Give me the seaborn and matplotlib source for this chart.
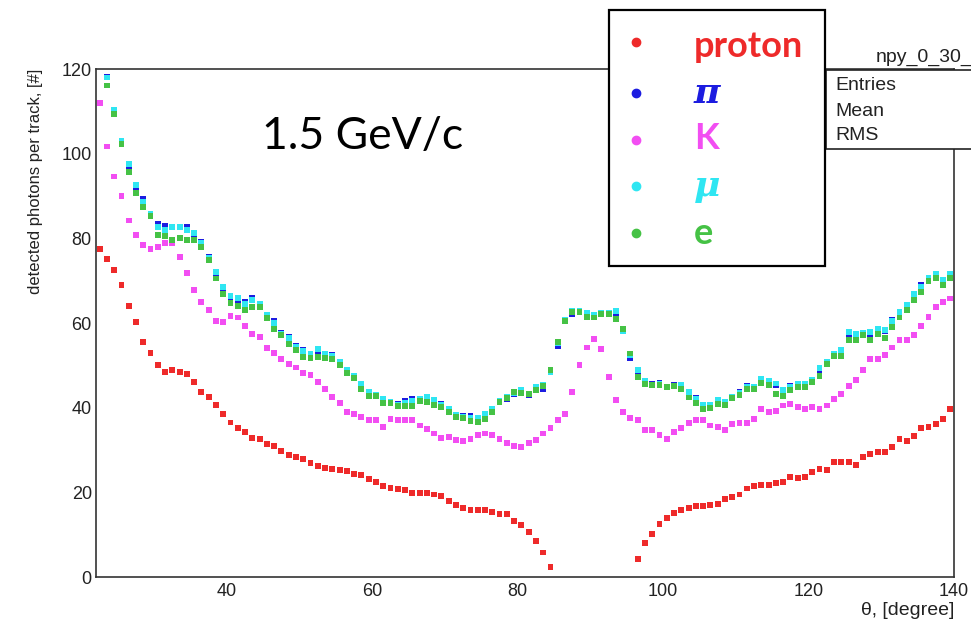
import numpy as np
import pandas as pd
import matplotlib
matplotlib.use('Agg')
import matplotlib.pyplot as plt
import seaborn as sns
from matplotlib.patches import Rectangle
from matplotlib.lines import Line2D
from matplotlib.ticker import MultipleLocator

# --- data: 1 degree bins from 22 to 140 ---
theta = np.arange(22.5, 140.0, 1.0)

proton = [77.5, 75.2, 72.5, 69.0, 64.1, 60.3, 55.6, 53.0, 50.1, 48.5,
          48.9, 48.4, 47.9, 46.0, 43.8, 42.5, 40.6, 38.4, 36.5, 35.2,
          34.2, 32.9, 32.6, 31.4, 31.0, 29.8, 28.8, 28.4, 27.8, 26.9,
          26.3, 25.8, 25.5, 25.3, 25.0, 24.3, 24.0, 23.1, 22.5, 21.4,
          21.1, 20.8, 20.5, 19.9, 19.9, 19.9, 19.5, 19.1, 18.0, 17.0,
          16.4, 15.8, 15.8, 15.8, 15.4, 14.8, 14.8, 13.2, 12.2, 10.7,
          8.5, 5.8, 2.4,
          np.nan, np.nan, np.nan, np.nan, np.nan, np.nan, np.nan, np.nan,
          np.nan, np.nan, np.nan,
          4.3, 8.0, 10.2, 12.5, 13.9, 15.1, 15.8, 16.4, 16.7, 16.7,
          17.0, 17.3, 18.4, 18.9, 19.5, 20.9, 21.4, 21.8, 21.8, 22.1,
          22.5, 23.7, 23.3, 23.6, 24.7, 25.6, 25.2, 27.2, 27.2, 27.2,
          26.5, 28.4, 29.1, 29.5, 29.5, 30.7, 32.6, 32.2, 33.3, 35.1,
          35.5, 36.1, 37.4, 39.6]

kaon = [111.9, 101.7, 94.6, 89.9, 84.2, 80.7, 78.5, 77.5, 77.9, 79.0,
        78.8, 75.6, 71.8, 67.9, 64.9, 63.1, 60.5, 60.3, 61.6, 61.3,
        59.3, 57.4, 56.7, 54.0, 52.9, 51.4, 50.4, 49.5, 48.2, 47.8,
        46.0, 44.4, 42.6, 41.2, 39.0, 38.4, 37.7, 37.1, 37.1, 35.5,
        37.4, 37.1, 37.1, 37.1, 35.8, 34.9, 33.9, 32.8, 33.1, 32.4,
        32.2, 32.6, 33.6, 33.9, 33.6, 32.6, 31.7, 31.0, 30.7, 31.7,
        32.3, 33.9, 35.3, 37.0, 38.6, 43.7, 50.1, 54.2, 56.2, 53.9,
        47.2, 41.8, 38.9, 37.5, 37.0, 34.8, 34.8, 33.6, 32.6, 34.2,
        35.2, 36.4, 37.0, 37.0, 35.8, 35.5, 34.8, 36.1, 36.4, 36.4,
        37.4, 39.6, 38.9, 39.2, 40.5, 40.8, 40.2, 39.6, 40.2, 39.6,
        40.5, 42.1, 43.3, 45.2, 46.5, 48.9, 51.5, 51.5, 52.4, 54.2,
        56.0, 56.0, 57.1, 59.3, 61.5, 63.8, 65.0, 65.8]

pion = [np.nan, 118.2, 110.0, 102.9, 96.8, 91.8, 89.4, 85.7, 83.3, 82.9,
        82.7, 82.7, 82.7, 81.0, 79.2, 75.6, 71.5, 67.8, 65.0, 65.5,
        64.9, 66.0, 64.3, 61.8, 60.5, 57.6, 56.6, 54.6, 53.7, 52.4,
        53.4, 52.6, 52.4, 50.6, 48.8, 47.3, 45.3, 43.5, 43.0, 42.0,
        41.4, 40.8, 41.6, 42.0, 42.0, 42.4, 41.3, 40.8, 39.6, 38.1,
        38.1, 38.0, 37.5, 38.0, 39.6, 41.5, 42.0, 43.3, 44.0, 43.0,
        44.3, 44.5, 48.3, 54.5, 60.5, 62.2, 62.5, 62.0, 61.8, 62.0,
        62.0, 62.2, 58.0, 51.8, 48.6, 46.0, 45.5, 45.8, 45.0, 45.3,
        45.3, 43.2, 42.2, 40.3, 40.4, 41.6, 41.3, 42.6, 43.6, 45.2,
        44.7, 46.4, 46.0, 45.3, 44.0, 45.2, 45.7, 45.7, 46.3, 48.6,
        50.5, 52.8, 53.3, 57.0, 57.5, 57.5, 57.5, 58.5, 58.0, 60.7,
        62.4, 64.0, 66.5, 69.0, 70.3, 71.5, 69.8, 71.3]

muon = [np.nan, 118.0, 110.3, 102.9, 97.6, 92.6, 88.5, 85.7, 82.6, 81.9,
        82.7, 82.7, 82.0, 81.2, 78.8, 75.4, 72.1, 68.4, 66.3, 65.9,
        64.4, 65.5, 64.5, 61.9, 60.1, 57.4, 56.4, 54.3, 53.4, 52.7,
        53.8, 52.8, 52.2, 50.8, 49.0, 47.5, 45.7, 43.7, 43.0, 42.0,
        41.3, 40.7, 41.1, 41.7, 42.0, 42.6, 41.8, 40.6, 39.6, 38.2,
        37.8, 37.6, 37.5, 38.6, 39.6, 41.6, 42.5, 43.5, 44.2, 43.3,
        44.8, 45.4, 48.5, 55.3, 60.8, 62.8, 62.8, 62.3, 61.8, 62.4,
        62.4, 62.8, 58.2, 52.4, 48.9, 46.2, 45.4, 45.6, 45.0, 45.2,
        45.4, 43.6, 42.0, 40.6, 40.6, 41.8, 41.4, 42.5, 43.4, 44.9,
        44.9, 46.7, 46.2, 45.7, 44.1, 45.0, 45.5, 45.5, 46.5, 49.3,
        50.9, 52.6, 53.6, 57.8, 57.5, 57.6, 57.8, 58.7, 58.3, 60.4,
        62.7, 64.3, 66.8, 68.6, 70.6, 71.7, 70.1, 71.7]

electron = [np.nan, 116.1, 109.4, 102.2, 95.7, 90.8, 87.3, 85.2, 80.7, 80.5,
            79.7, 80.0, 79.7, 79.7, 77.9, 74.9, 70.5, 66.9, 64.8, 64.1,
            63.1, 63.8, 63.8, 61.2, 58.6, 57.2, 55.0, 53.6, 51.9, 51.7,
            52.0, 51.8, 51.5, 50.1, 48.2, 47.0, 44.4, 42.8, 42.7, 41.1,
            41.0, 40.3, 40.3, 40.3, 41.6, 41.3, 40.7, 40.1, 39.0, 37.9,
            37.5, 36.9, 36.7, 37.4, 38.9, 41.4, 42.3, 43.6, 43.5, 43.2,
            44.2, 45.2, 48.9, 55.5, 60.5, 62.5, 62.5, 61.5, 61.3, 62.2,
            62.2, 61.0, 58.5, 52.8, 47.3, 45.6, 45.3, 45.3, 44.9, 45.2,
            44.4, 42.4, 41.1, 39.6, 40.0, 40.8, 40.7, 42.2, 43.0, 44.4,
            44.4, 45.9, 45.3, 43.3, 42.8, 44.1, 44.9, 44.9, 46.0, 47.5,
            50.3, 52.2, 52.2, 56.0, 56.0, 57.2, 56.0, 57.4, 56.4, 59.1,
            61.3, 63.0, 65.4, 67.4, 70.0, 70.6, 69.0, 70.6]

# drawing order (later ones on top)
order = ['proton', 'pi', 'K', 'mu', 'e']
series = {'proton': proton, 'pi': pion, 'K': kaon, 'mu': muon, 'e': electron}
colors = {'proton': '#ee2a2a', 'pi': '#1c1ce0', 'K': '#f24ef2',
          'mu': '#2fe6f2', 'e': '#45c245'}

df = pd.concat([pd.DataFrame({'theta': theta, 'photons': series[k], 'particle': k})
                for k in order], ignore_index=True).dropna()

# --- plot ---
sns.set_style('white')
plt.rcParams['font.family'] = ['Liberation Sans', 'DejaVu Sans']

W, H = 971, 621
fig = plt.figure(figsize=(W / 100, H / 100), dpi=100)
ax = fig.add_axes([96 / W, 1 - 577 / H, (954 - 96) / W, (577 - 69) / H])

sns.scatterplot(data=df, x='theta', y='photons', hue='particle', hue_order=order,
                palette=colors, marker='s', s=18, linewidth=0, legend=False, ax=ax)

ax.set_xlim(22, 140)
ax.set_ylim(0, 120)
ax.xaxis.set_major_locator(MultipleLocator(20))
ax.xaxis.set_minor_locator(MultipleLocator(5))
ax.yaxis.set_major_locator(MultipleLocator(20))
ax.yaxis.set_minor_locator(MultipleLocator(5))
ax.tick_params(axis='y', which='major', direction='in', length=18.5, width=1.1,
               color='#333333', labelsize=13, pad=3, labelcolor='#222222')
ax.tick_params(axis='y', which='minor', direction='in', length=10, width=1.1, color='#333333')
ax.tick_params(axis='x', which='major', direction='in', length=11, width=1.1,
               color='#333333', labelsize=13, pad=4, labelcolor='#222222')
ax.tick_params(axis='x', which='minor', direction='in', length=5.5, width=1.1, color='#333333')
for sp in ax.spines.values():
    sp.set_color('#333333')
    sp.set_linewidth(1.2)

ax.set_ylabel('detected photons per track, [#]', loc='top', fontsize=12, color='#222222')
ax.yaxis.set_label_coords(-0.062, 1.0)
ax.set_xlabel('θ, [degree]', loc='right', fontsize=14, color='#222222')
ax.xaxis.set_label_coords(1.0, -0.050)


def fx(x):
    return x / W


def fy(y):
    return 1 - y / H


# ROOT stats box, cut at the right edge
fig.add_artist(Rectangle((fx(826), fy(149)), fx(990) - fx(826), fy(69.5) - fy(149),
                         transform=fig.transFigure, facecolor='white',
                         edgecolor='#222222', linewidth=1.2, zorder=5))
for name, yy in [('Entries', 86), ('Mean', 111), ('RMS', 135)]:
    fig.text(fx(835), fy(yy), name, fontsize=14, va='center', ha='left',
             color='#222222', zorder=6)
fig.text(fx(876), fy(57), 'npy_0_30_', fontsize=14, va='center', ha='left',
         color='#222222', zorder=6)

# energy label
fig.text(fx(262), fy(149), '1.5 GeV/c', fontsize=32, family=['Lato', 'DejaVu Sans'],
         ha='left', va='baseline', color='black', zorder=6)

# legend box
fig.add_artist(Rectangle((fx(609), fy(266)), fx(825) - fx(609), fy(10) - fy(266),
                         transform=fig.transFigure, facecolor='white',
                         edgecolor='black', linewidth=1.6, zorder=8))
leg_labels = [('proton', 'proton', 57, 42, 'normal', ['Lato', 'DejaVu Sans']),
              ('pi', 'π', 103, 93, 'italic', ['DejaVu Serif']),
              ('K', 'K', 149, 140, 'normal', ['Lato', 'DejaVu Sans']),
              ('mu', 'μ', 196, 186, 'italic', ['DejaVu Serif']),
              ('e', 'e', 244, 233, 'normal', ['Lato', 'DejaVu Sans'])]
for key, txt, ybase, ydot, style, fam in leg_labels:
    fig.add_artist(Line2D([fx(636)], [fy(ydot)], marker='o', markersize=6,
                          color=colors[key], linestyle='none',
                          transform=fig.transFigure, zorder=9))
    fig.text(fx(694), fy(ybase), txt, fontsize=26, fontweight='bold', style=style,
             family=fam, color=colors[key], ha='left', va='baseline', zorder=9)

fig.savefig('out.png', dpi=100)
